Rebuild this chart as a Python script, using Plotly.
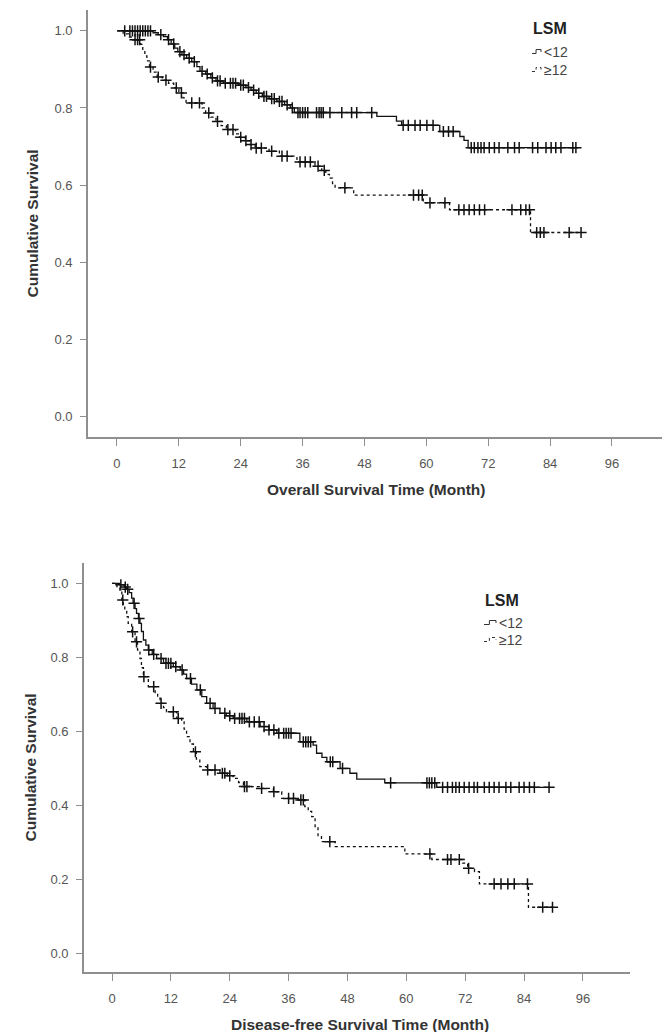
import numpy as np
import plotly.graph_objects as go

# ---------------- DATA ----------------
x_ticks = [0, 12, 24, 36, 48, 60, 72, 84, 96]
y_ticks = [0.0, 0.2, 0.4, 0.6, 0.8, 1.0]
legend_title = "LSM"
group_names = ["<12", "≥12"]

# Overall survival, LSM < 12 (event times, survival after event)
os_lo_t = [7.0, 8.0, 9.0, 9.8, 10.5, 11.2, 11.8, 12.6, 13.5, 14.5, 15.5, 16.1, 17.2, 18.2,
           19.2, 20.6, 23.5, 25.0, 26.0, 27.0, 28.2, 29.5, 31.0, 32.5, 33.6, 34.4, 50.4,
           54.2, 55.2, 62.6, 66.5, 67.3, 68.1]
os_lo_s = [0.995, 0.990, 0.985, 0.977, 0.966, 0.955, 0.946, 0.938, 0.929, 0.920, 0.907, 0.895,
           0.888, 0.878, 0.870, 0.864, 0.859, 0.853, 0.846, 0.838, 0.830, 0.824, 0.817, 0.808,
           0.800, 0.788, 0.778, 0.766, 0.755, 0.739, 0.726, 0.716, 0.697]
os_lo_c = [1.5, 2.5, 3.0, 3.5, 4.0, 4.5, 5.0, 5.5, 6.0, 6.5, 8.5, 10.0, 11.0, 12.2, 13.0, 14.0,
           15.0, 16.5, 17.5, 18.5, 19.5, 20.0, 21.0, 22.0, 22.5, 23.0, 24.0, 24.5, 25.5, 26.5,
           27.5, 28.5, 29.0, 30.0, 30.5, 31.5, 32.0, 33.0, 34.0, 35.1, 35.5, 36.0, 36.5, 37.0,
           38.7, 39.2, 39.6, 40.0, 41.3, 43.6, 45.5, 46.5, 49.4, 55.5, 56.5, 57.8, 58.8, 60.1,
           61.3, 63.3, 64.3, 65.2, 68.7, 69.3, 70.0, 70.6, 71.2, 72.2, 73.2, 74.1, 75.8, 77.1,
           78.0, 80.6, 81.6, 83.2, 84.2, 85.1, 86.1, 88.4, 89.0]

# Overall survival, LSM >= 12
os_hi_t = [1.2, 2.2, 3.0, 4.6, 5.0, 5.4, 5.8, 6.3, 7.0, 7.8, 8.8, 10.0, 11.0, 12.0, 12.8, 13.4,
           16.5, 17.2, 18.2, 19.2, 20.2, 21.2, 23.0, 23.8, 24.9, 25.8, 26.8, 29.5, 31.5, 34.9,
           38.4, 39.7, 40.5, 41.2, 41.8, 42.3, 45.9, 59.4, 64.5, 80.2]
os_hi_s = [0.992, 0.984, 0.977, 0.965, 0.950, 0.935, 0.922, 0.906, 0.893, 0.880, 0.872, 0.864,
           0.852, 0.839, 0.826, 0.813, 0.800, 0.787, 0.776, 0.765, 0.754, 0.744, 0.733, 0.724,
           0.715, 0.705, 0.696, 0.688, 0.675, 0.660, 0.649, 0.638, 0.628, 0.618, 0.604, 0.593,
           0.574, 0.554, 0.536, 0.477]
os_hi_c = [3.5, 4.0, 4.4, 6.5, 8.0, 9.5, 11.5, 12.5, 14.5, 16.0, 17.8, 19.5, 21.5, 22.5, 24.0,
           25.0, 26.0, 27.0, 28.0, 30.0, 32.0, 33.0, 35.5, 36.5, 37.5, 39.0, 40.2, 44.2, 57.5,
           58.5, 59.2, 60.7, 63.6, 66.3, 67.3, 68.3, 69.3, 70.3, 71.3, 76.6, 78.3, 79.3, 80.0,
           81.4, 82.1, 82.8, 87.7, 90.0]

# Disease-free survival, LSM < 12
dfs_lo_t = [1.5, 2.5, 3.0, 3.5, 4.0, 4.3, 4.7, 5.0, 5.4, 5.7, 6.0, 6.4, 6.9, 7.4, 8.2, 9.1,
            10.5, 12.5, 13.9, 14.6, 15.2, 16.2, 17.3, 18.3, 19.3, 20.6, 22.0, 23.3, 24.7, 27.5,
            30.2, 32.0, 33.6, 38.3, 41.0, 41.7, 42.8, 43.8, 46.5, 48.5, 49.9, 55.6, 66.2]
dfs_lo_s = [0.996, 0.990, 0.984, 0.975, 0.960, 0.946, 0.932, 0.919, 0.905, 0.892, 0.870, 0.847,
            0.833, 0.820, 0.808, 0.797, 0.784, 0.775, 0.766, 0.755, 0.743, 0.728, 0.712, 0.694,
            0.676, 0.662, 0.649, 0.642, 0.635, 0.626, 0.613, 0.604, 0.595, 0.572, 0.563, 0.541,
            0.530, 0.518, 0.500, 0.487, 0.471, 0.461, 0.449]
dfs_lo_c = [1.8, 2.7, 3.2, 4.5, 5.5, 7.5, 8.5, 10.0, 11.0, 11.5, 12.0, 13.0, 14.3, 16.0, 18.0,
            20.0, 21.0, 23.0, 24.0, 25.0, 26.0, 26.5, 27.0, 28.0, 29.0, 30.0, 31.0, 32.0, 33.0,
            34.0, 35.0, 35.5, 36.0, 36.5, 39.0, 39.5, 40.0, 40.5, 44.5, 45.0, 47.0, 56.8, 64.2,
            64.7, 65.2, 65.8, 67.4, 68.4, 69.4, 70.1, 70.8, 71.8, 72.8, 73.8, 74.5, 75.9, 76.9,
            77.9, 78.9, 80.3, 81.3, 83.0, 84.0, 85.1, 86.1, 89.1]

# Disease-free survival, LSM >= 12
dfs_hi_t = [1.0, 1.6, 2.0, 2.3, 2.6, 3.0, 3.3, 4.0, 4.7, 5.2, 5.7, 6.0, 6.4, 7.4, 8.8, 9.3, 9.8,
            10.5, 11.1, 13.2, 14.2, 14.7, 15.2, 15.9, 16.6, 17.2, 17.9, 19.3, 22.0, 23.5, 24.7,
            25.8, 26.8, 30.2, 32.9, 34.6, 37.6, 39.3, 40.0, 40.7, 41.4, 42.0, 42.7, 45.5, 59.7,
            65.2, 71.5, 72.5, 73.9, 74.9, 84.9]
dfs_hi_s = [0.991, 0.982, 0.955, 0.941, 0.928, 0.910, 0.892, 0.869, 0.842, 0.820, 0.797, 0.772,
            0.748, 0.721, 0.703, 0.690, 0.676, 0.664, 0.653, 0.635, 0.626, 0.606, 0.586, 0.566,
            0.545, 0.525, 0.505, 0.496, 0.487, 0.480, 0.473, 0.462, 0.451, 0.446, 0.437, 0.419,
            0.415, 0.397, 0.384, 0.370, 0.343, 0.316, 0.302, 0.289, 0.269, 0.254, 0.244, 0.230,
            0.221, 0.188, 0.125]
dfs_hi_c = [2.2, 4.2, 5.0, 6.5, 8.5, 10.0, 12.5, 13.5, 17.0, 19.5, 21.0, 22.5, 23.0, 24.0, 27.0,
            27.5, 30.5, 33.0, 36.0, 37.0, 38.5, 39.0, 44.4, 64.8, 68.4, 69.1, 70.8, 72.7, 77.9,
            79.3, 80.7, 82.0, 84.7, 87.8, 89.8]

# ---------------- FIGURE ----------------
W, H = 666, 1032
def px(x):
    return x / W
def py(y):
    return 1 - y / H

def surv_at(t_ev, s_ev, t):
    t_ev = np.asarray(t_ev); s_ev = np.asarray(s_ev)
    idx = np.searchsorted(t_ev, np.asarray(t), side="right") - 1
    return np.where(idx < 0, 1.0, s_ev[np.clip(idx, 0, None)])

fig = go.Figure()

def add_group(t_ev, s_ev, cens, dash, xa, ya):
    end = max(max(cens), max(t_ev))
    xs = [0.0] + list(t_ev) + [end]
    ys = [1.0] + list(s_ev) + [s_ev[-1]]
    fig.add_trace(go.Scatter(x=xs, y=ys, mode="lines", line_shape="hv",
                             line=dict(color="#111111", width=1.3, dash=dash),
                             xaxis=xa, yaxis=ya, showlegend=False, hoverinfo="skip"))
    fig.add_trace(go.Scatter(x=cens, y=surv_at(t_ev, s_ev, cens), mode="markers",
                             marker=dict(symbol="cross-thin", size=8,
                                         line=dict(color="#111111", width=1.5)),
                             xaxis=xa, yaxis=ya, showlegend=False, hoverinfo="skip"))

add_group(os_lo_t, os_lo_s, os_lo_c, "solid", "x", "y")
add_group(os_hi_t, os_hi_s, os_hi_c, "dot", "x", "y")
add_group(dfs_lo_t, dfs_lo_s, dfs_lo_c, "solid", "x2", "y2")
add_group(dfs_hi_t, dfs_hi_s, dfs_hi_c, "dot", "x2", "y2")

tick_font = dict(family="Liberation Sans, Arial, sans-serif", size=13, color="#555555")
axis_common = dict(showline=True, linecolor="#8f8f8f", linewidth=1.6, showgrid=False,
                   zeroline=False, ticks="outside", tickcolor="#8f8f8f", tickwidth=1,
                   tickfont=tick_font, fixedrange=True)

# chart geometry (pixels)
t_x0, t_x1, t_yt, t_yb = 88, 662, 10, 437.3
b_x0, b_x1, b_yt, b_yb = 84, 630, 563, 972.3

fig.update_layout(
    width=W, height=H, margin=dict(l=0, r=0, t=0, b=0),
    paper_bgcolor="white", plot_bgcolor="white",
    xaxis=dict(domain=[px(t_x0), px(t_x1)], anchor="y", range=[-5.62, 105.7],
               tickvals=x_ticks, ticklen=7, ticklabelstandoff=6, **axis_common),
    yaxis=dict(domain=[py(t_yb), py(t_yt)], anchor="x", range=[-0.054, 1.054],
               tickvals=y_ticks, tickformat=".1f", ticklen=6, ticklabelstandoff=5,
               **axis_common),
    xaxis2=dict(domain=[px(b_x0), px(b_x1)], anchor="y2", range=[-5.71, 105.6],
                tickvals=x_ticks, ticklen=7, ticklabelstandoff=6, **axis_common),
    yaxis2=dict(domain=[py(b_yb), py(b_yt)], anchor="x2", range=[-0.0508, 1.055],
                tickvals=y_ticks, tickformat=".1f", ticklen=6, ticklabelstandoff=5,
                **axis_common),
)

title_font = dict(family="Liberation Sans, Arial, sans-serif", size=15.5, color="#333333")
annos = [
    dict(text="<b>Overall Survival Time (Month)</b>", x=px(377), y=py(490)),
    dict(text="<b>Disease-free Survival Time (Month)</b>", x=px(360), y=py(1024)),
    dict(text="<b>Cumulative Survival</b>", x=px(32), y=py(223.5), textangle=-90),
    dict(text="<b>Cumulative Survival</b>", x=px(30), y=py(767.5), textangle=-90),
]
for a in annos:
    fig.add_annotation(xref="paper", yref="paper", showarrow=False, font=title_font,
                       xanchor="center", yanchor="middle", **a)

# Legends (title + small step glyphs)
leg_font = dict(family="Liberation Sans, Arial, sans-serif", size=14, color="#444444")
def legend_block(lx, ly_title, ly1, ly2, gw):
    fig.add_annotation(xref="paper", yref="paper", showarrow=False, x=px(lx), y=py(ly_title),
                       text="<b>" + legend_title + "</b>", xanchor="left", yanchor="middle",
                       font=dict(family="Liberation Sans, Arial, sans-serif", size=16,
                                 color="#222222"))
    for ly, name, dash in [(ly1, group_names[0], "solid"), (ly2, group_names[1], "dot")]:
        gx = lx + 1
        path = (f"M {px(gx)},{py(ly+1.5)} L {px(gx+gw*0.45)},{py(ly+1.5)} "
                f"L {px(gx+gw*0.45)},{py(ly-2.5)} L {px(gx+gw)},{py(ly-2.5)} "
                f"L {px(gx+gw)},{py(ly)}")
        fig.add_shape(type="path", xref="paper", yref="paper", path=path,
                      line=dict(color="#333333", width=1, dash=dash))
        fig.add_annotation(xref="paper", yref="paper", showarrow=False, x=px(gx + gw + 1),
                           y=py(ly), text=name, xanchor="left", yanchor="middle",
                           font=leg_font)

legend_block(531, 28, 52, 70, 9)
legend_block(483, 600, 623, 640, 12)

fig.write_html("out.html")
